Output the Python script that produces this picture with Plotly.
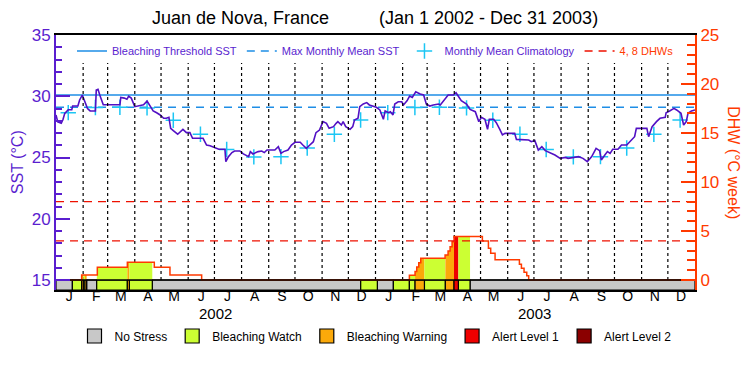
import pandas as pd
import plotly.graph_objects as go

# ---------------- data ----------------
START = "2002-01-01"
END = "2004-01-01"
title_text = "Juan de Nova, France" + "\u00a0" * 10 + "(Jan 1 2002 - Dec 31 2003)"

# SST (days since Jan 1 2002, degC)
sst_day = [0, 2, 6, 8, 10, 14, 18, 19, 25, 27, 30, 33, 36, 39, 45, 46, 48, 50, 54, 73,
           74, 78, 81, 83, 86, 90, 100, 104, 107, 111, 115, 119, 123, 126, 129, 131, 134, 139, 145, 149,
           153, 156, 168, 172, 176, 182, 186, 193, 194, 197, 201, 204, 210, 214, 220, 222, 225, 231, 235, 238,
           241, 250, 254, 257, 260, 265, 269, 273, 279, 282, 286, 290, 294, 297, 301, 305, 309, 312, 317, 320,
           322, 326, 328, 331, 336, 339, 341, 345, 347, 351, 355, 358, 362, 366, 370, 374, 376, 380, 382, 385,
           387, 391, 395, 397, 401, 404, 407, 411, 416, 420, 423, 427, 431, 437, 439, 444, 448, 454, 457, 460,
           463, 469, 473, 479, 483, 486, 490, 493, 495, 500, 503, 507, 510, 513, 519, 524, 526, 534, 540, 543,
           547, 551, 555, 559, 564, 570, 576, 582, 585, 591, 597, 602, 607, 612, 617, 621, 623, 627, 630, 633,
           636, 642, 646, 652, 656, 661, 663, 675, 677, 679, 681, 686, 690, 696, 697, 701, 706, 709, 714, 717,
           720, 722, 726, 730]
sst_value = [28.47, 27.90, 27.80, 28.10, 28.60, 28.90, 28.90, 29.20, 29.20, 29.70, 30.10, 29.55, 29.00, 28.80, 28.80, 30.50, 30.57, 30.10, 29.30, 29.30,
             29.90, 29.85, 29.75, 30.00, 29.85, 29.15, 29.30, 29.60, 29.30, 28.80, 28.65, 28.47, 28.20, 28.20, 28.28, 27.38, 27.19, 26.90, 27.30, 27.03,
             27.03, 26.57, 26.57, 26.02, 25.96, 25.75, 25.67, 25.67, 24.66, 25.07, 25.40, 25.53, 25.53, 25.29, 25.07, 25.48, 25.29, 25.48, 25.53, 25.40,
             25.61, 25.61, 25.88, 25.34, 25.48, 25.61, 26.02, 26.24, 26.24, 26.02, 25.75, 26.02, 26.29, 27.03, 27.24, 27.93, 27.79, 27.38, 27.52, 27.79,
             27.93, 27.65, 27.93, 27.52, 27.30, 27.52, 28.06, 28.20, 29.15, 29.37, 29.48, 29.29, 29.20, 29.10, 28.88, 28.12, 28.80, 28.66, 28.74, 28.47,
             29.37, 29.55, 29.55, 29.29, 29.63, 30.02, 29.90, 30.37, 30.18, 30.10, 29.37, 29.20, 29.29, 29.37, 29.29, 29.69, 30.10, 30.10, 30.29, 29.96,
             29.63, 29.37, 28.93, 28.74, 27.93, 28.28, 28.12, 27.30, 28.12, 28.12, 27.84, 27.30, 26.84, 26.97, 26.97, 26.97, 26.48, 26.48, 26.43, 26.29,
             26.38, 25.61, 25.88, 25.56, 25.40, 25.20, 24.93, 25.01, 24.93, 25.01, 25.07, 24.93, 24.66, 25.07, 25.75, 25.56, 24.80, 25.20, 25.48, 25.34,
             25.67, 25.67, 26.02, 26.02, 26.29, 26.70, 27.38, 27.38, 26.70, 27.10, 27.52, 27.93, 28.20, 28.28, 28.66, 28.80, 29.01, 28.88, 28.61, 27.65,
             27.93, 28.61, 28.80, 28.88]

threshold_sst = 30.1
mmm_sst = 29.1
clim_years = [2002, 2003]
clim_month_value = [28.66, 29.08, 29.10, 29.05, 28.04, 26.90, 25.65, 25.05, 25.07, 25.78, 26.89, 28.06]

# Degree heating weeks: step starts (days since Jan 1 2002) and values
dhw_day = [0, 29.3, 47.2, 81.5, 112.3, 130.2, 166.4,
           403.7, 410.2, 412.1, 414.4, 416.7, 444.5, 447.9, 450.2, 452.5, 454.7,
           487.1, 494.0, 496.6, 501.6, 529.4, 531.7, 534.7, 537.8, 540.0]
dhw_value = [0, 0.5, 1.3, 1.8, 1.3, 0.5, 0,
             0.48, 0.88, 1.33, 1.77, 2.21, 2.55, 2.96, 3.4, 3.91, 4.45,
             3.98, 3.23, 2.72, 2.07, 1.6, 1.19, 0.78, 0.44, 0]
dhw_ref = [4, 8]

# Stress level periods (start day, level)
stress_start = [0, 18.7, 29.3, 31.2, 33.1, 35.0, 46.5, 81.5, 83.8, 110.0,
                348.1, 367.1, 385.4, 403.7, 410.2, 420.9, 444.8, 454.7, 459.7, 473.0]
stress_level = [0, 1, 2, 1, 2, 0, 1, 2, 1, 0,
                1, 0, 1, 1, 2, 1, 2, 3, 1, 0]
stress_names = ["No Stress", "Bleaching Watch", "Bleaching Warning", "Alert Level 1", "Alert Level 2"]
stress_colors = ["#c8c8c8", "#ccff33", "#fba90a", "#ee0000", "#8b0000"]

month_letters = ["J", "F", "M", "A", "M", "J", "J", "A", "S", "O", "N", "D"]
year_labels = ["2002", "2003"]

# ---------------- styling ----------------
PURPLE = "#5a1ecf"
LINE_PURPLE = "#5210c4"
ORANGE = "#ff3a00"
DASH_RED = "#ee1100"
BLUE = "#1e8ee6"
CYAN = "#1cc6f4"
FONT = "Liberation Sans"

start = pd.Timestamp(START)
end = pd.Timestamp(END)
total_days = (end - start).days


def to_date(d):
    return start + pd.to_timedelta(d, unit="D")


SST_BOTTOM = 15 - 10 / 12.25
DHW_BOTTOM = -10 / 9.8
GRID_TOP_DHW = (280 - 63) / 9.8   # month grid stops just under the in-plot legend

fig = go.Figure()

# dotted month grid (drawn first, so fills cover it)
month_start = [pd.Timestamp(year=y, month=m + 1, day=1) for y in clim_years for m in range(12)][1:]
gx, gy = [], []
for m in month_start:
    gx += [m, m, None]
    gy += [0, GRID_TOP_DHW, None]
fig.add_trace(go.Scatter(x=gx, y=gy, yaxis="y2", mode="lines",
                         line=dict(color="black", width=1.2, dash="dot"),
                         showlegend=False, hoverinfo="skip"))

# fills under DHW coloured by stress level
stress_end = stress_start[1:] + [total_days]


def dhw_at(d):
    v = 0
    for sd, sv in zip(dhw_day, dhw_value):
        if sd <= d + 1e-9:
            v = sv
    return v


for s, e, lev in zip(stress_start, stress_end, stress_level):
    if lev == 0:
        continue
    xs = [s, s]
    ys = [0, dhw_at(s)]
    for sd, sv in zip(dhw_day, dhw_value):
        if s < sd < e:
            xs += [sd, sd]
            ys += [ys[-1], sv]
    xs += [e, e]
    ys += [ys[-1], 0]
    if max(ys) <= 0:
        continue
    fig.add_trace(go.Scatter(x=[to_date(v) for v in xs], y=ys, yaxis="y2", mode="lines",
                             fill="toself", fillcolor=stress_colors[lev], line=dict(width=0),
                             showlegend=False, hoverinfo="skip"))

# stress bar along the bottom
for lev in range(len(stress_names)):
    segs = [(s, e) for s, e, l in zip(stress_start, stress_end, stress_level) if l == lev]
    if not segs:
        continue
    fig.add_trace(go.Bar(
        x=[to_date((s + e) / 2) for s, e in segs],
        y=[-DHW_BOTTOM] * len(segs),
        base=[DHW_BOTTOM] * len(segs),
        width=[(e - s) * 86400000 for s, e in segs],
        marker=dict(color=stress_colors[lev], line=dict(color="black", width=1.2)),
        yaxis="y2", showlegend=False, hoverinfo="skip"))

# DHW line
fig.add_trace(go.Scatter(x=[to_date(d) for d in dhw_day] + [end], y=dhw_value + [0],
                         yaxis="y2", mode="lines", line=dict(color=ORANGE, width=1.5, shape="hv"),
                         showlegend=False))
# top edge of stress bar
fig.add_trace(go.Scatter(x=[start, end], y=[0, 0], yaxis="y2", mode="lines",
                         line=dict(color="black", width=1.5), showlegend=False, hoverinfo="skip"))

# SST lines and markers (legend 1)
fig.add_trace(go.Scatter(x=[start, end], y=[threshold_sst] * 2, mode="lines",
                         line=dict(color=BLUE, width=1.3),
                         name="Bleaching Threshold SST", legend="legend"))
fig.add_trace(go.Scatter(x=[start, end], y=[mmm_sst] * 2, mode="lines",
                         line=dict(color=BLUE, width=1.3, dash="8px,6px"),
                         name="Max Monthly Mean SST", legend="legend"))
clim_x = [pd.Timestamp(year=y, month=m + 1, day=15) for y in clim_years for m in range(12)]
clim_y = [v for _ in clim_years for v in clim_month_value]
fig.add_trace(go.Scatter(x=clim_x, y=clim_y, mode="markers",
                         marker=dict(symbol="cross-thin", size=11, line=dict(color=CYAN, width=1.5)),
                         name="Monthly Mean Climatology", legend="legend"))
for i, ref in enumerate(dhw_ref):
    fig.add_trace(go.Scatter(x=[start, end], y=[ref] * 2, yaxis="y2", mode="lines",
                             line=dict(color=DASH_RED, width=1.3, dash="8px,6px"),
                             name="<span style='color:%s'>4, 8 DHWs</span>" % ORANGE,
                             legend="legend", legendgroup="dhwref", showlegend=(i == 0)))
fig.add_trace(go.Scatter(x=[to_date(d) for d in sst_day], y=sst_value, mode="lines",
                         line=dict(color=LINE_PURPLE, width=1.6), showlegend=False, name="SST"))

# stress legend (legend 2)
for name, col in zip(stress_names, stress_colors):
    fig.add_trace(go.Scatter(x=[None], y=[None], mode="markers", name=name,
                             marker=dict(symbol="square", size=14, color=col,
                                         line=dict(color="black", width=1.2)),
                             legend="legend2"))

# ticks
month_mid = [pd.Timestamp(year=y, month=m + 1, day=16) for y in clim_years for m in range(12)]
month_txt = month_letters * len(clim_years)

for y, lbl in zip(clim_years, year_labels):
    fig.add_annotation(x=pd.Timestamp(year=y, month=7, day=2), xref="x", y=-(313 - 290) / 255,
                       yref="paper", text=lbl, showarrow=False,
                       font=dict(size=15, color="black", family=FONT), yanchor="middle")

fig.add_annotation(x=-0.06, xref="paper", y=0.5, yref="paper", text="SST (°C)", textangle=-90,
                   xanchor="center", yanchor="middle",
                   showarrow=False, font=dict(size=16, color=PURPLE, family=FONT))
fig.add_annotation(x=1.06, xref="paper", y=0.5, yref="paper", text="DHW (°C week)", textangle=90,
                   xanchor="center", yanchor="middle",
                   showarrow=False, font=dict(size=16, color=ORANGE, family=FONT))

fig.update_layout(
    width=750, height=375,
    margin=dict(l=56, r=55, t=35, b=85),
    paper_bgcolor="white", plot_bgcolor="white",
    font=dict(family=FONT),
    title=dict(text=title_text, x=0.5, xanchor="center", y=1 - 18 / 375, yanchor="middle",
               yref="container", font=dict(size=18, color="black", family=FONT)),
    barmode="overlay",
    xaxis=dict(type="date", range=[start, end], tickmode="array", tickvals=month_mid,
               ticktext=month_txt, ticks="", showgrid=False, showline=True, linecolor="black",
               linewidth=1.5, mirror=True, zeroline=False, ticklabelstandoff=-8,
               tickfont=dict(size=14, color="black", family=FONT)),
    yaxis=dict(range=[SST_BOTTOM, 35], tickmode="array", tickvals=[15, 20, 25, 30, 35],
               ticks="inside", ticklen=14, tickwidth=1.5, tickcolor=PURPLE,
               showline=True, linecolor=PURPLE, linewidth=2, showgrid=False, zeroline=False,
               tickfont=dict(size=17, color=PURPLE, family=FONT),
               minor=dict(tickmode="array", tickvals=[v for v in range(16, 35) if v % 5],
                          ticks="inside", ticklen=6, tickcolor=PURPLE, tickwidth=1.5)),
    yaxis2=dict(range=[DHW_BOTTOM, 25], overlaying="y", side="right", tickmode="array",
                tickvals=[0, 5, 10, 15, 20, 25], ticks="inside", ticklen=14, tickwidth=1.5,
                tickcolor=ORANGE, showline=True, linecolor=ORANGE, linewidth=2,
                showgrid=False, zeroline=False,
                tickfont=dict(size=17, color=ORANGE, family=FONT),
                minor=dict(tickmode="array", tickvals=[v for v in range(1, 25) if v % 5],
                           ticks="inside", ticklen=8, tickcolor=ORANGE, tickwidth=1.5)),
    legend=dict(orientation="h", x=0.5, xanchor="center", y=(290 - 51) / 255, yanchor="middle",
                bgcolor="rgba(0,0,0,0)", font=dict(size=11, color=PURPLE, family=FONT),
                itemwidth=30, tracegroupgap=0),
    legend2=dict(orientation="h", x=0.5, xanchor="center", y=-(336 - 290) / 255, yanchor="middle",
                 bgcolor="white", font=dict(size=12, color="black", family=FONT),
                 itemsizing="trace"),
)

# place the figure at the page's top-left corner (no default body margin), no mode bar
fig.write_html("out.html", config={"displayModeBar": False},
               post_script="document.body.style.margin='0';")
